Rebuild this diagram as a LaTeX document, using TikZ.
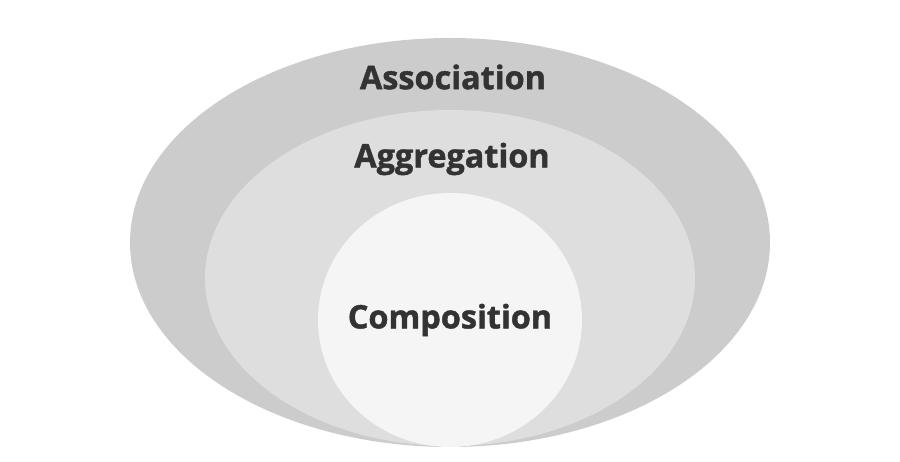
\documentclass[tikz,border=0pt]{standalone}
\usepackage{fontspec}
\setmainfont{Open Sans}
\definecolor{outerc}{HTML}{CCCCCC}
\definecolor{midc}{HTML}{DEDEDE}
\definecolor{innerc}{HTML}{F5F5F5}
\definecolor{txt}{HTML}{333333}
\begin{document}
\begin{tikzpicture}[x=1pt,y=-1pt,
  lbl/.style={text=txt,font=\fontsize{32.4}{36}\selectfont\bfseries\addfontfeatures{FakeBold=1.3},inner sep=0pt}]
\useasboundingbox (0,0) rectangle (900,462);
\fill[outerc] (450,242.5) ellipse [x radius=320, y radius=204.5];
\fill[midc] (450,278) ellipse [x radius=245, y radius=168];
\fill[innerc] (450,320) ellipse [x radius=132, y radius=127];
\node[lbl] (assoc) at (453,77) {Association};
\node[lbl] (aggr) at (452,159) {Aggregation};
\node[lbl] (comp) at (450,320) {Composition};
\end{tikzpicture}
\end{document}
